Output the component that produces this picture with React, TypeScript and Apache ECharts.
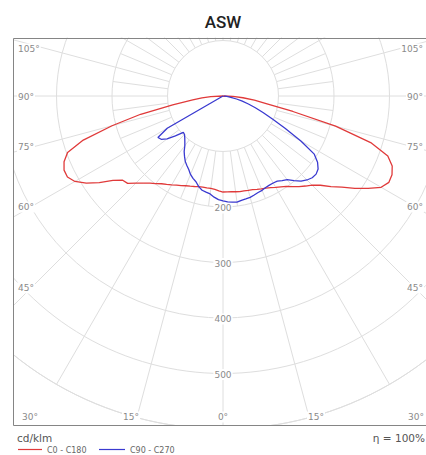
import React, { useEffect, useRef } from 'react';
import * as echarts from 'echarts';

// Gamma angles (degrees from nadir) at which intensities were read
const gammas = [0, 2.5, 5, 7.5, 10, 12.5, 15, 17.5, 20, 22.5, 25, 27.5, 30, 32.5, 35, 37.5, 40, 42.5, 45, 47.5, 50, 52.5, 55, 57.5, 60, 62.5, 65, 67.5, 70, 72.5, 75, 77.5, 80, 82.5, 85, 87.5, 90];

// C0 - C180 plane (red), cd/klm — left half (C180) and right half (C0)
const c180 = [173, 171, 169, 168, 168, 168, 169, 171, 173, 175, 178, 181, 185, 189, 193, 199, 205, 213, 222, 233, 236, 250, 272, 292, 308, 316, 316, 310, 298, 264, 207, 152, 92, 55, 38, 22, 0];
const c0 = [173, 173, 173, 174, 175, 175, 176, 177, 179, 181, 183, 186, 190, 194, 199, 206, 213, 220, 227, 238, 254, 270, 290, 310, 329, 337, 336, 330, 316, 279, 210, 129, 79, 57, 36, 18, 0];

// C90 - C270 plane (blue), cd/klm — left half (C270) and right half (C90)
const c270 = [189, 187, 183, 178, 176, 174, 169, 162, 158, 153, 146, 141, 136, 129, 122, 113, 107, 102, 98, 97, 112, 127, 136, 139, 116, 0, 0, 0, 0, 0, 0, 0, 0, 0, 0, 0, 0];
const c90 = [190, 191, 192, 193, 191, 190, 189, 187, 185, 184, 182, 181, 181, 182, 186, 190, 199, 208, 214, 218, 219, 216, 208, 195, 162, 126, 99, 78, 62, 48, 36, 25, 16, 9, 4, 1, 0];

const seriesNames = ['C0 - C180', 'C90 - C270'];
const seriesColors = ['#e03a3a', '#3a3ad0'];

// Axis labels
const radiusLabels = [200, 300, 400, 500];
const sideAngleLabels = ['105°', '90°', '75°', '60°', '45°'];
const bottomAngleLabels = ['30°', '15°', '0°', '15°', '30°'];
const unitLabel = 'cd/klm';
const efficiencyLabel = 'η = 100%';
const titleText = 'ASW';

const GRID = '#dedede';
const LABEL = '#8a8a8a';

export default function App() {
  const ref = useRef<HTMLDivElement>(null);

  useEffect(() => {
    if (!ref.current) return;
    const chart = echarts.init(ref.current, undefined, { renderer: 'svg' });

    // left half: angle value = gamma; right half: angle value = 360 - gamma
    const buildCurve = (left: number[], right: number[]) => {
      const l = gammas.map((g, i) => [left[i], g]).reverse();
      const r = gammas.map((g, i) => [right[i], 360 - g]);
      return [...l, ...r];
    };

    const spokes = Array.from({ length: 48 }, (_, i) => i * 7.5);

    const sideY = [49, 97, 147, 207, 288];
    const bottomX = [[21, 'left'], [131, 'center'], [223, 'center'], [316, 'center'], [425, 'right']];

    const font9 = '9px "DejaVu Sans"';

    const graphics: any[] = [
      { type: 'rect', shape: { x: 0, y: 0, width: 426, height: 37.5 }, style: { fill: '#fff' }, z: 5, silent: true },
      { type: 'rect', shape: { x: 0, y: 0, width: 13, height: 455 }, style: { fill: '#fff' }, z: 5, silent: true },
      { type: 'rect', shape: { x: 0, y: 425.5, width: 426, height: 30 }, style: { fill: '#fff' }, z: 5, silent: true },
      { type: 'rect', shape: { x: 13.5, y: 38.5, width: 421, height: 387 }, style: { fill: 'none', stroke: '#858585', lineWidth: 1 }, z: 6, silent: true },
      {
        type: 'text', x: 223, y: 22, z: 10,
        style: { text: titleText, fill: '#222', font: '500 17px Roboto', textAlign: 'center', textVerticalAlign: 'middle', align: 'center', verticalAlign: 'middle' },
      },
      {
        type: 'text', x: 17, y: 438, z: 10,
        style: { text: unitLabel, fill: '#555', font: '10.5px "DejaVu Sans"', textAlign: 'left', textVerticalAlign: 'middle', align: 'left', verticalAlign: 'middle' },
      },
      {
        type: 'text', x: 425, y: 438, z: 10,
        style: { text: efficiencyLabel, fill: '#555', font: '10.5px "DejaVu Sans"', textAlign: 'right', textVerticalAlign: 'middle', align: 'right', verticalAlign: 'middle' },
      },
      { type: 'line', shape: { x1: 18, y1: 449.5, x2: 42, y2: 449.5 }, style: { stroke: seriesColors[0], lineWidth: 1.2 }, z: 10 },
      {
        type: 'text', x: 47, y: 450, z: 10,
        style: { text: seriesNames[0], fill: '#666', font: '8px "DejaVu Sans"', textAlign: 'left', textVerticalAlign: 'middle', align: 'left', verticalAlign: 'middle' },
      },
      { type: 'line', shape: { x1: 99, y1: 449.5, x2: 125, y2: 449.5 }, style: { stroke: seriesColors[1], lineWidth: 1.2 }, z: 10 },
      {
        type: 'text', x: 130, y: 450, z: 10,
        style: { text: seriesNames[1], fill: '#666', font: '8px "DejaVu Sans"', textAlign: 'left', textVerticalAlign: 'middle', align: 'left', verticalAlign: 'middle' },
      },
    ];

    sideAngleLabels.forEach((t, i) => {
      graphics.push({
        type: 'text', x: 17, y: sideY[i], z: 7,
        style: { text: t, fill: LABEL, font: font9, textAlign: 'left', textVerticalAlign: 'middle', align: 'left', verticalAlign: 'middle', backgroundColor: '#fff', padding: [1, 1] },
      });
      graphics.push({
        type: 'text', x: 424, y: sideY[i], z: 7,
        style: { text: t, fill: LABEL, font: font9, textAlign: 'right', textVerticalAlign: 'middle', align: 'right', verticalAlign: 'middle', backgroundColor: '#fff', padding: [1, 1] },
      });
    });
    bottomAngleLabels.forEach((t, i) => {
      const [x, al] = bottomX[i] as [number, string];
      graphics.push({
        type: 'text', x, y: 417, z: 7,
        style: { text: t, fill: LABEL, font: font9, textAlign: al, textVerticalAlign: 'middle', align: al, verticalAlign: 'middle', backgroundColor: '#fff', padding: [1, 1] },
      });
    });

    chart.setOption({
      animation: false,
      polar: { center: [223, 96], radius: 333 },
      angleAxis: {
        type: 'value', min: 0, max: 360, startAngle: 270, clockwise: true,
        axisLine: { show: true, lineStyle: { color: GRID, width: 1 } },
        axisTick: { show: false }, axisLabel: { show: false }, splitLine: { show: false },
      },
      radiusAxis: {
        type: 'value', min: 0, max: 600, interval: 100,
        axisLine: { show: false }, axisTick: { show: false }, axisLabel: { show: false },
        splitLine: { show: true, lineStyle: { color: GRID, width: 1 } },
      },
      graphic: { elements: graphics },
      series: [
        {
          type: 'custom', coordinateSystem: 'polar', z: 1, silent: true,
          data: spokes.map((a) => [100, a, a % 15 === 0 ? 600 : 200]),
          encode: { radius: 0, angle: 1 },
          renderItem: (_p: any, api: any) => {
            const p0 = api.coord([api.value(0), api.value(1)]);
            const p1 = api.coord([api.value(2), api.value(1)]);
            return { type: 'line', shape: { x1: p0[0], y1: p0[1], x2: p1[0], y2: p1[1] }, style: { stroke: GRID, lineWidth: 1 } };
          },
        },
        {
          type: 'custom', coordinateSystem: 'polar', z: 2, silent: true,
          data: radiusLabels.map((r) => [r, 0]),
          encode: { radius: 0, angle: 1 },
          renderItem: (_p: any, api: any) => {
            const p = api.coord([api.value(0), api.value(1)]);
            return {
              type: 'text', x: p[0], y: p[1] + 1,
              style: { text: String(api.value(0)), fill: LABEL, font: font9, textAlign: 'center', textVerticalAlign: 'middle', align: 'center', verticalAlign: 'middle', backgroundColor: '#fff', padding: [1, 1] },
            };
          },
        },
        {
          type: 'line', name: seriesNames[0], coordinateSystem: 'polar', z: 3, silent: true,
          data: buildCurve(c180, c0), showSymbol: false, symbol: 'none',
          lineStyle: { color: seriesColors[0], width: 1.3 },
        },
        {
          type: 'line', name: seriesNames[1], coordinateSystem: 'polar', z: 3, silent: true,
          data: buildCurve(c270, c90), showSymbol: false, symbol: 'none',
          lineStyle: { color: seriesColors[1], width: 1.3 },
        },
      ],
    });

    return () => chart.dispose();
  }, []);

  return <div ref={ref} style={{ position: 'absolute', left: 0, top: 0, width: 426, height: 455 }} />;
}
